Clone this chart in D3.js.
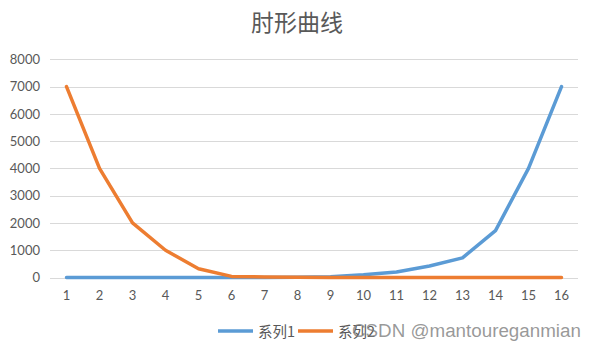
<!DOCTYPE html>
<html><head><meta charset="utf-8">
<script src="https://cdn.jsdelivr.net/npm/d3@7"></script>
<style>body{margin:0;background:#fff}svg{display:block}</style>
</head><body>
<svg id="c" width="597" height="349"></svg>
<script>
const categories = ["1","2","3","4","5","6","7","8","9","10","11","12","13","14","15","16"];
const series1 = [0,0,0,0,0,0,0,10,30,100,200,420,720,1720,4000,7000];
const series2 = [7000,4000,2000,1000,320,40,20,10,0,0,0,0,0,0,0,0];
const seriesNames = ["系列1","系列2"];
const yTicks = [0,1000,2000,3000,4000,5000,6000,7000,8000];
const title = "肘形曲线";
const watermark = "CSDN @mantoureganmian";

(function(){
const svg = d3.select("#c");
const pLeft = 50, pRight = 578, pTop = 59.3, pBottom = 277.5;
const x = d3.scaleBand().domain(categories).range([pLeft, pRight]);
const y = d3.scaleLinear().domain([0, 8000]).range([pBottom, pTop]);
const numFont = "Lato, 'Liberation Sans', sans-serif";
const cjkFont = "'Noto Sans CJK SC', sans-serif";
const txt = "#595959";

svg.append("text").attr("x", 297).attr("y", 31).attr("text-anchor","middle")
  .attr("font-family", cjkFont).attr("font-size", 23).attr("fill", txt).text(title);

// grid
svg.append("g").selectAll("line").data(yTicks).join("line")
  .attr("x1", pLeft).attr("x2", pRight)
  .attr("y1", d => Math.round(y(d))+0.5).attr("y2", d => Math.round(y(d))+0.5)
  .attr("stroke", "#d9d9d9").attr("stroke-width", 1);

// y axis labels
const ya = svg.append("g").attr("transform", `translate(${pLeft},0)`)
  .call(d3.axisLeft(y).tickValues(yTicks).tickSize(0).tickPadding(10).tickFormat(d3.format("d")));
ya.select(".domain").remove();
ya.selectAll("text").attr("font-family", numFont).attr("font-size", 13).attr("fill", txt);

// x axis labels
const xa = svg.append("g").attr("transform", `translate(0,${pBottom})`)
  .call(d3.axisBottom(x).tickSize(0).tickPadding(13));
xa.select(".domain").remove();
xa.selectAll("text").attr("font-family", numFont).attr("font-size", 13).attr("fill", txt);

const colors = ["#5B9BD5", "#ED7D31"];
const line = d3.line().x((d,i) => x(categories[i]) + x.bandwidth()/2).y(d => y(d));
[series1, series2].forEach((s, k) => {
  svg.append("path").datum(s).attr("d", line).attr("fill","none")
    .attr("stroke", colors[k]).attr("stroke-width", 3.5)
    .attr("stroke-linejoin","round").attr("stroke-linecap","round");
});

// legend
const lg = [218, 298];
seriesNames.forEach((n, k) => {
  const g = svg.append("g").attr("transform", `translate(${lg[k]},331)`);
  g.append("line").attr("x1",0).attr("x2",35).attr("y1",0).attr("y2",0)
    .attr("stroke", colors[k]).attr("stroke-width", 3.5);
  g.append("text").attr("x", 40).attr("y", 5.5).attr("font-family", cjkFont)
    .attr("font-size", 14.5).attr("fill", txt).text(n);
});

// watermark
svg.append("text").attr("x", 352).attr("y", 337).attr("font-family", "'Liberation Sans', Arial, sans-serif")
  .attr("font-size", 18.8).attr("fill", "#777").attr("fill-opacity", 0.75).text(watermark);
})();
</script>
</body></html>
